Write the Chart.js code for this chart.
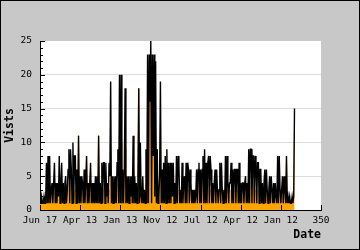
<!DOCTYPE html>
<html>
<head>
<meta charset="utf-8">
<script src="https://cdn.jsdelivr.net/npm/chart.js@4/dist/chart.umd.min.js"></script>
<style>
html,body{margin:0;padding:0;background:#c8c8c8;}
canvas{display:block;}
</style>
</head>
<body>
<canvas id="c" width="360" height="250"></canvas>
<script>
// x tick labels at positions 0,50,...,350
const tickPositions = [0, 50, 100, 150, 200, 250, 300, 350];
const tickLabels = ["Jun 17", "Apr 13", "Jan 13", "Nov 12", "Jul 12", "Apr 12", "Jan 12", "350"];

// Visits (black line)
const visits = [
  2,1,2,1,1,2,1,1,7,1,
  8,1,8,1,3,4,1,4,7,1,
  4,1,4,2,8,1,4,7,1,4,
  1,4,5,1,3,6,9,1,9,6,
  1,10,1,8,8,1,6,1,11,1,
  5,1,5,4,1,6,1,4,8,1,
  4,1,4,7,1,4,1,4,1,5,
  1,5,1,11,1,4,1,7,1,7,
  7,1,7,2,4,1,7,5,19,1,
  5,1,5,1,5,1,7,9,1,20,
  1,20,1,6,1,6,18,1,5,1,
  5,1,5,2,5,1,11,1,5,1,
  4,1,5,18,1,10,2,1,5,1,
  3,1,9,1,23,1,23,16,25,1,
  23,8,23,2,22,1,9,1,2,5,
  19,1,6,1,7,1,8,1,9,1,
  7,1,7,1,7,2,7,1,4,1,
  8,1,8,7,1,3,1,7,1,4,
  5,1,7,1,7,6,1,6,4,1,
  3,1,3,1,2,6,1,6,7,1,
  6,1,6,8,1,9,1,7,1,7,
  8,1,8,6,1,4,1,4,6,1,
  6,3,1,3,7,1,7,3,1,3,
  1,8,1,8,4,1,4,4,7,1,
  6,1,6,6,1,6,6,1,7,1,
  4,1,4,4,1,4,5,1,4,1,
  9,1,9,9,1,8,8,1,8,7,
  1,7,7,1,6,6,1,4,1,4,
  6,1,6,3,1,3,5,1,5,3,
  1,4,1,4,2,1,8,1,8,3,
  1,3,5,1,5,3,1,8,1,2,
  1,2,1,1,2,1,2,15
];

// Unique visitors (orange area)
const uniques = [
  1,1,2,1,1,2,1,1,3,1,
  3,1,3,1,2,3,1,2,3,1,
  2,1,2,1,4,1,2,3,1,2,
  1,2,3,1,2,3,4,1,4,3,
  1,5,1,3,3,1,3,1,11,1,
  2,1,3,2,1,3,1,2,8,1,
  2,1,2,3,1,2,1,2,1,3,
  1,3,1,11,1,2,1,3,1,3,
  3,1,4,1,2,1,3,2,5,1,
  2,1,3,1,2,1,3,4,1,11,
  1,10,1,3,1,3,9,1,2,1,
  2,1,3,1,2,1,6,1,3,1,
  2,1,3,18,1,5,1,1,2,1,
  2,1,4,1,11,1,16,9,16,1,
  12,4,11,1,10,1,9,1,2,3,
  12,1,3,1,4,1,4,1,5,1,
  3,1,3,1,4,1,3,1,2,1,
  4,1,3,3,1,2,1,3,1,2,
  3,1,4,1,3,3,1,3,2,1,
  2,1,2,1,2,3,1,3,4,1,
  3,1,3,4,1,4,1,3,1,3,
  4,1,3,3,1,2,1,2,3,1,
  3,2,1,2,3,1,4,2,1,2,
  1,4,1,3,2,1,2,2,3,1,
  3,1,3,3,1,3,3,1,3,1,
  2,1,2,2,1,2,3,1,2,1,
  4,1,3,4,1,4,3,1,3,3,
  1,3,3,1,3,3,1,2,1,2,
  3,1,3,2,1,2,3,1,2,2,
  1,2,1,2,1,1,4,1,3,2,
  1,2,3,1,3,2,1,8,1,1,
  1,1,1,1,1,1,1,13
];

const yMin = 0, yMax = 25, yStep = 5;
const xMin = 0, xMax = 350;

const bgPlugin = {
  id: 'bg',
  beforeDraw(chart) {
    const {ctx, chartArea: a} = chart;
    ctx.save();
    ctx.fillStyle = '#c8c8c8';
    ctx.fillRect(0, 0, chart.width, chart.height);
    ctx.fillStyle = '#ffffff';
    ctx.fillRect(a.left, a.top, a.right - a.left, a.bottom - a.top);
    ctx.restore();
  },
  afterDraw(chart) {
    const {ctx, chartArea: a} = chart;
    const xs = chart.scales.x, ys = chart.scales.y;
    ctx.save();
    ctx.strokeStyle = '#000';
    ctx.lineWidth = 1;
    ctx.beginPath();
    for (let v = yMin; v <= yMax; v++) {
      const py = Math.round(ys.getPixelForValue(v)) + 0.5;
      const len = (v % yStep === 0) ? 5 : 3;
      ctx.moveTo(a.left, py);
      ctx.lineTo(a.left + len, py);
    }
    tickPositions.forEach(t => {
      const px = Math.round(xs.getPixelForValue(t)) + 0.5;
      ctx.moveTo(px, a.bottom);
      ctx.lineTo(px, a.bottom - 5);
    });
    ctx.stroke();
    ctx.strokeRect(0.5, 0.5, chart.width - 1, chart.height - 1);
    ctx.restore();
  }
};

new Chart(document.getElementById('c'), {
  type: 'line',
  data: {
    datasets: [
      {
        label: 'Visits',
        data: visits.map((v, i) => ({x: i, y: v})),
        borderColor: '#000000',
        borderWidth: 1.4,
        pointRadius: 0,
        fill: false,
        tension: 0,
        order: 0
      },
      {
        label: 'Unique',
        data: uniques.map((v, i) => ({x: i, y: v})),
        borderColor: '#ffa500',
        backgroundColor: '#ffa500',
        borderWidth: 1,
        pointRadius: 0,
        fill: 'origin',
        tension: 0,
        order: 1
      }
    ]
  },
  options: {
    responsive: false,
    animation: false,
    devicePixelRatio: 1,
    layout: {padding: {left: 0, right: 39, top: 41, bottom: 0}},
    plugins: {legend: {display: false}, tooltip: {enabled: false}},
    scales: {
      x: {
        type: 'linear',
        min: xMin, max: xMax,
        afterBuildTicks(scale) { scale.ticks = tickPositions.map(v => ({value: v})); },
        afterFit(scale) { scale.height = 40; },
        ticks: {
          autoSkip: false,
          maxRotation: 0,
          padding: 5,
          color: '#000',
          font: {family: 'DejaVu Sans Mono', size: 9.5},
          callback(v) { const k = tickPositions.indexOf(v); return k >= 0 ? tickLabels[k] : ''; }
        },
        grid: {color: 'rgba(0,0,0,0)', drawTicks: false},
        border: {display: true, color: '#000', width: 1},
        title: {
          display: true, text: 'Date', align: 'end', color: '#000',
          font: {family: 'DejaVu Sans Mono', size: 11.5, weight: 'bold'},
          padding: {top: 0, bottom: 8}
        }
      },
      y: {
        type: 'linear',
        min: yMin, max: yMax,
        afterFit(scale) { scale.width = 40; },
        ticks: {
          stepSize: yStep,
          padding: 8,
          color: '#000',
          font: {family: 'DejaVu Sans Mono', size: 9.5}
        },
        grid: {
          drawTicks: false,
          color(ctx) { const v = ctx.tick && ctx.tick.value; return (v === yMin || v === yMax) ? 'rgba(0,0,0,0)' : '#dcdcdc'; }
        },
        border: {display: true, color: '#000', width: 1},
        title: {
          display: true, text: 'Vists', color: '#000',
          font: {family: 'DejaVu Sans Mono', size: 11.5, weight: 'bold'},
          padding: {top: 3, bottom: 0}
        }
      }
    }
  },
  plugins: [bgPlugin]
});
</script>
</body>
</html>
